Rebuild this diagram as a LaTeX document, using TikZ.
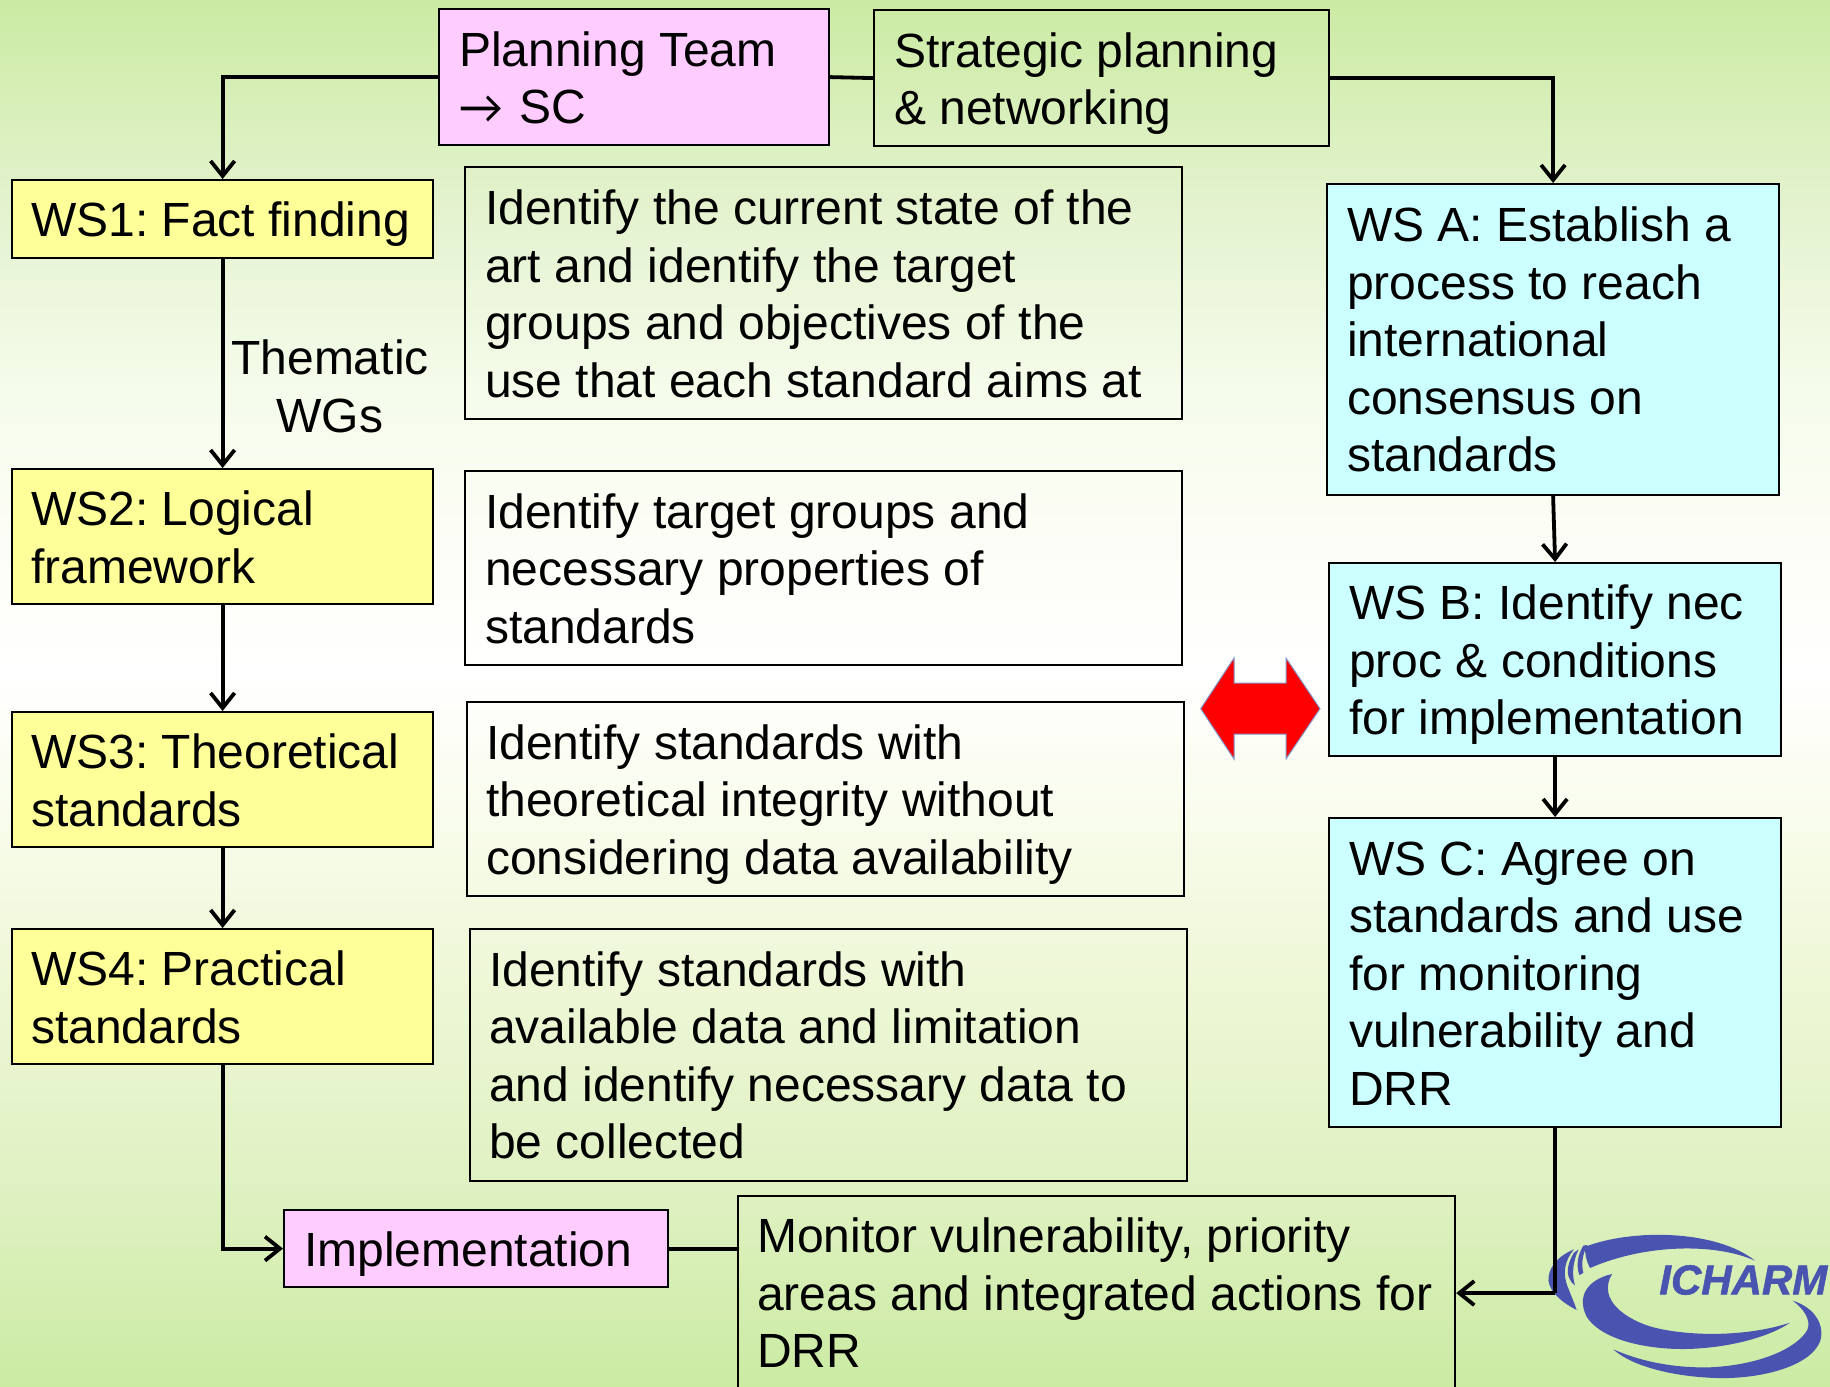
\documentclass[tikz,border=0pt]{standalone}
\usepackage{fontspec}
\setmainfont{Liberation Sans}
\newfontfamily\symbolfont{Carlito}
\newfontfamily\logofont[BoldItalicFeatures={FakeBold=1.3}]{Liberation Sans}
\usetikzlibrary{arrows.meta,calc}
\definecolor{bga}{RGB}{203,235,163}
\definecolor{bgb}{RGB}{230,243,210}
\definecolor{bgc}{RGB}{245,252,235}
\definecolor{bgd}{RGB}{252,253,245}
\definecolor{bge}{RGB}{255,255,255}
\definecolor{bgf}{RGB}{248,252,235}
\definecolor{bgg}{RGB}{238,247,215}
\definecolor{bgh}{RGB}{224,241,195}
\pgfdeclareverticalshading{pagewash}{100bp}{
  color(0bp)=(bga); color(25bp)=(bga); color(32.43bp)=(bgh); color(39.83bp)=(bgg);
  color(45.24bp)=(bgf); color(50.65bp)=(bge); color(56.06bp)=(bgd); color(60.93bp)=(bgc);
  color(66.88bp)=(bgb); color(75bp)=(bga); color(100bp)=(bga)}
\definecolor{wsyellow}{RGB}{255,255,153}
\definecolor{wspink}{RGB}{255,204,255}
\definecolor{wscyan}{RGB}{204,255,255}
\definecolor{logoblue}{RGB}{72,84,176}
\definecolor{arrowedge}{RGB}{130,150,200}
\newcommand{\lstrut}{\rule[-11pt]{0pt}{57.5pt}}
\newcommand{\hstrut}{\rule[-12pt]{0pt}{57.5pt}}
\tikzset{
  boxbase/.style={draw=black,line width=2.2pt,anchor=north west,inner xsep=0pt,inner ysep=0pt,
    align=flush left,font=\fontsize{48}{57.5}\selectfont\frenchspacing,
    execute at begin node=\lstrut,execute at end node=\lstrut},
  raised/.style={execute at begin node=\hstrut,execute at end node=\hstrut},
  yellowbox/.style={boxbase,fill=wsyellow},
  pinkbox/.style={boxbase,fill=wspink},
  cyanbox/.style={boxbase,fill=wscyan},
  plainbox/.style={boxbase},
  sized/.style n args={3}{minimum width=#1pt,minimum height=#2pt,text width=#1pt-2*#3pt},
  link/.style={draw=black,line width=3.8pt},
  heavylink/.style={draw=black,line width=4.6pt},
  flow/.style={link,-{Straight Barb[length=15pt,width=24pt,line width=3.8pt]}},
  wglabel/.style={align=flush center,font=\fontsize{48}{57.5}\selectfont\frenchspacing},
  hotarrow/.style={fill=red,draw=arrowedge,line width=1pt},
  logoshape/.style={fill=logoblue,draw=none}
}
\begin{document}
\begin{tikzpicture}[x=1pt,y=-1pt]
\useasboundingbox (0,0) rectangle (1830,1386);
\clip (0,0) rectangle (1830,1386);
\path[shading=pagewash] (0,0) rectangle (1830,1386);

% logo
\begin{scope}[shift={(1400,1180)},x=0.3333pt,y=-0.3333pt]
% left crescent and streaks
\fill[logoshape] (530,390) .. controls (470,360) and (440,320) .. (446,290)
  .. controls (450,255) and (480,225) .. (522,208)
  .. controls (495,240) and (485,280) .. (505,325) .. controls (512,345) and (522,365) .. (530,390) -- cycle;
\fill[logoshape] (522,218) .. controls (505,245) and (498,275) .. (508,295)
  .. controls (512,305) and (518,312) .. (525,316) .. controls (515,285) and (518,245) .. (536,208) -- cycle;
\fill[logoshape] (550,197) .. controls (533,225) and (528,255) .. (538,285)
  -- (550,279) .. controls (543,250) and (548,222) .. (562,195) -- cycle;
% top band
\fill[logoshape] (556,200) .. controls (700,145) and (950,150) .. (1065,242)
  .. controls (950,190) and (740,190) .. (570,264)
  .. controls (560,245) and (553,220) .. (556,200) -- cycle;
% middle band
\fill[logoshape] (636,282) .. controls (560,300) and (530,350) .. (560,410)
  .. controls (610,490) and (780,515) .. (900,505)
  .. controls (1000,498) and (1110,470) .. (1170,428)
  .. controls (1050,468) and (880,472) .. (760,442)
  .. controls (680,420) and (590,360) .. (636,282) -- cycle;
% bottom band
\fill[logoshape] (640,508) .. controls (700,535) and (800,565) .. (930,562)
  .. controls (1080,555) and (1190,505) .. (1222,450)
  .. controls (1235,420) and (1210,385) .. (1178,362)
  .. controls (1250,385) and (1275,440) .. (1260,485)
  .. controls (1230,560) and (1080,598) .. (950,594)
  .. controls (810,590) and (690,555) .. (640,508) -- cycle;
\node[text=logoblue,font=\fontsize{42}{42}\logofont\bfseries\itshape,inner sep=0pt,anchor=center] (logotext) at (1030,300) {ICHARM};
\end{scope}

\begin{scope}[shift={(-1,-1)}]
% left column
\node[pinkbox,sized={390}{136}{20}] (plan) at (439,9) {Planning Team\\\makebox[60pt][l]{\symbolfont →}SC};
\node[plainbox,sized={455}{136}{20}] (strat) at (874,10) {Strategic planning\\\& networking};
\node[yellowbox,sized={421}{78}{19}] (ws1) at (12,180) {WS1: Fact finding};
\node[plainbox,sized={717}{252}{20}] (d1) at (465,167) {Identify the current state of the\\art and identify the target\\groups and objectives of the\\use that each standard aims at};
\node[yellowbox,sized={421}{135}{19}] (ws2) at (12,469) {WS2: Logical\\framework};
\node[plainbox,sized={717}{194}{20}] (d2) at (465,471) {Identify target groups and\\necessary properties of\\standards};
\node[yellowbox,sized={421}{135}{19}] (ws3) at (12,712) {WS3: Theoretical\\standards};
\node[plainbox,sized={717}{194}{19}] (d3) at (467,702) {Identify standards with\\theoretical integrity without\\considering data availability};
\node[yellowbox,sized={421}{135}{19}] (ws4) at (12,929) {WS4: Practical\\standards};
\node[plainbox,raised,sized={717}{252}{19}] (d4) at (470,929) {Identify standards with\\available data and limitation\\and identify necessary data to\\be collected};
\node[pinkbox,sized={384}{77}{20}] (impl) at (284,1210) {Implementation};
\node[plainbox,raised,sized={717}{194}{19}] (mon) at (738,1196) {Monitor vulnerability, priority\\areas and integrated actions for\\DRR};
% right column
\node[cyanbox,raised,sized={452}{311}{20}] (wsa) at (1327,184) {WS A: Establish a\\process to reach\\international\\consensus on\\standards};
\node[cyanbox,sized={452}{193}{20}] (wsb) at (1329,563) {WS B: Identify nec\\proc \& conditions\\for implementation};
\node[cyanbox,sized={452}{309}{20}] (wsc) at (1329,818) {WS C: Agree on\\standards and use\\for monitoring\\vulnerability and\\DRR};
\node[wglabel] (wg) at (331,387.5) {Thematic\\WGs};
\end{scope}

% connectors
\coordinate (wscdrop) at (wsc.south |- mon.east);
\draw[flow] (plan.west) -| (ws1.north);
\draw[link] (plan.east) -- (strat.west);
\draw[flow] (strat.east) -| (wsa.north);
\draw[flow] (ws1.south) -- (ws2.north);
\draw[flow] (ws2.south) -- (ws3.north);
\draw[flow] (ws3.south) -- (ws4.north);
\draw[flow] (ws4.south) |- (impl.west);
\draw[link] (impl.east) -- (impl.east -| mon.west);
\draw[flow] (wsa.south) -- (wsb.north);
\draw[flow] (wsb.south) -- (wsc.north);
\draw[heavylink] (wsc.south) -- (wscdrop);
\draw[flow] (wscdrop) -- (mon.east);

% red double arrow
\path[hotarrow] (1200.7,708.7) -- (1234,658) -- (1234,683) -- (1286,683) -- (1286,658)
  -- (1320,708.7) -- (1286,759) -- (1286,734) -- (1234,734) -- (1234,759) -- cycle;
\end{tikzpicture}
\end{document}
